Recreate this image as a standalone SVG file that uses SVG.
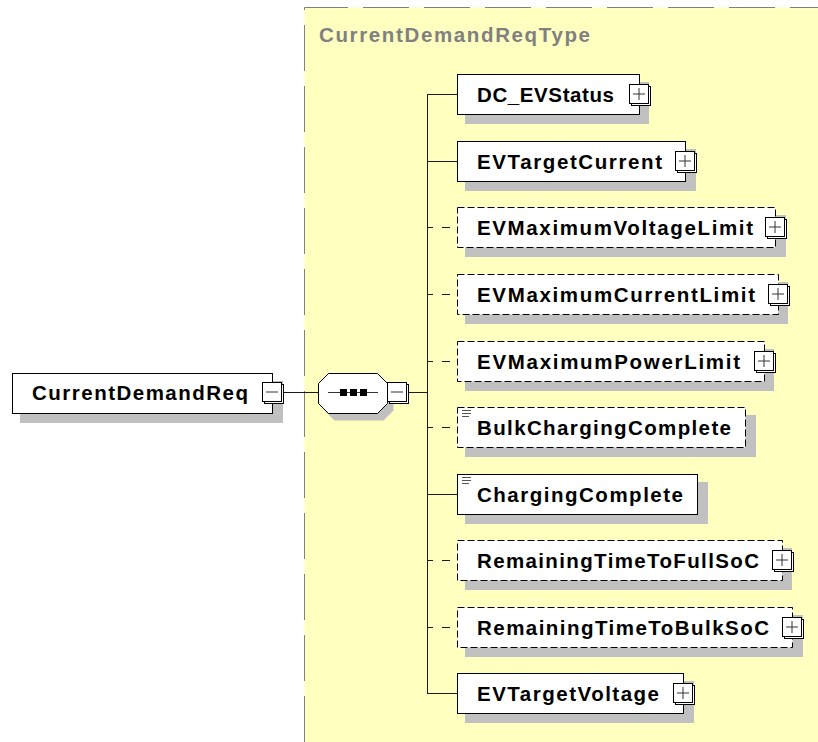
<svg xmlns="http://www.w3.org/2000/svg" xmlns:xlink="http://www.w3.org/1999/xlink" width="818" height="742" viewBox="0 0 818 742">
<defs>
<style>
.shadow{fill:#c0c0c0;stroke:none}
.box{fill:#fff;stroke:#000;stroke-width:1}
.opt{stroke-dasharray:7 3}
.lbl{font-family:"Liberation Sans",Arial,sans-serif;font-weight:bold;font-size:20.5px;fill:#000}
.title{font-family:"Liberation Sans",Arial,sans-serif;font-weight:bold;font-size:20.5px;fill:#808080}
.conn{stroke:#1a1a1a;stroke-width:1;fill:none}
.dconn{stroke:#1a1a1a;stroke-width:1;fill:none;stroke-dasharray:5 9 8 7}
.ico{stroke:#333;stroke-width:1}
</style>
<g id="plus">
<rect x="2.5" y="2.5" width="19" height="19" fill="#fff" stroke="#000"/>
<rect x="0.5" y="0.5" width="19" height="19" fill="#fff" stroke="#000"/>
<line x1="4" y1="10" x2="16" y2="10" class="ico"/>
<line x1="10" y1="4" x2="10" y2="16" class="ico"/>
</g>
<g id="minus">
<rect x="2.5" y="2.5" width="19" height="19" fill="#fff" stroke="#000"/>
<rect x="0.5" y="0.5" width="19" height="19" fill="#fff" stroke="#000"/>
<line x1="4" y1="10" x2="16" y2="10" class="ico"/>
</g>
<g id="lines">
<line x1="462" y1="0.5" x2="471" y2="0.5" stroke="#555"/>
<line x1="462" y1="3.5" x2="471" y2="3.5" stroke="#555"/>
<line x1="462" y1="6.5" x2="469" y2="6.5" stroke="#555"/>
</g>
</defs>
<rect width="818" height="742" fill="#fff"/>
<g id="panel">
<rect x="304.5" y="7.5" width="520" height="740" fill="#ffffc0"/>
<path d="M304.5 742 V7.5 H818" fill="none" stroke="#808080" stroke-width="1" stroke-dasharray="46 15"/>
<text class="title" x="319" y="42" textLength="271" lengthAdjust="spacing">CurrentDemandReqType</text>
</g>
<g id="connectors">
<line class="conn" x1="284" y1="392.5" x2="318.5" y2="392.5"/>
<line class="conn" x1="408" y1="392.5" x2="428" y2="392.5"/>
<line class="conn" x1="427.5" y1="94" x2="427.5" y2="694"/>
<line class="conn" x1="428" y1="94.5" x2="457" y2="94.5"/>
<line class="conn" x1="428" y1="161.5" x2="457" y2="161.5"/>
<line class="dconn" x1="428" y1="227.5" x2="457" y2="227.5"/>
<line class="dconn" x1="428" y1="294.5" x2="457" y2="294.5"/>
<line class="dconn" x1="428" y1="361.5" x2="457" y2="361.5"/>
<line class="dconn" x1="428" y1="427.5" x2="457" y2="427.5"/>
<line class="conn" x1="428" y1="494.5" x2="457" y2="494.5"/>
<line class="dconn" x1="428" y1="560.5" x2="457" y2="560.5"/>
<line class="dconn" x1="428" y1="627.5" x2="457" y2="627.5"/>
<line class="conn" x1="428" y1="693.5" x2="457" y2="693.5"/>
</g>
<g id="root">
<rect class="shadow" x="20" y="381" width="263" height="42"/>
<rect class="box" x="12.5" y="373.5" width="260" height="40"/>
<text class="lbl" x="32" y="400" textLength="216" lengthAdjust="spacing">CurrentDemandReq</text>
<use xlink:href="#minus" x="262" y="382"/>
</g>
<g id="sequence">
<polygon transform="translate(6,7)" points="328.5,373.5 377.5,373.5 387.5,383.5 387.5,403.5 377.5,413.5 328.5,413.5 318.5,403.5 318.5,383.5" fill="#c0c0c0"/>
<polygon points="328.5,373.5 377.5,373.5 387.5,383.5 387.5,403.5 377.5,413.5 328.5,413.5 318.5,403.5 318.5,383.5" fill="#fff" stroke="#000"/>
<line x1="328" y1="392.5" x2="378" y2="392.5" stroke="#333"/>
<rect x="340" y="389" width="7" height="7" fill="#000"/>
<rect x="350" y="389" width="7" height="7" fill="#000"/>
<rect x="360" y="389" width="7" height="7" fill="#000"/>
<use xlink:href="#minus" x="387" y="382"/>
</g>
<g id="DC_EVStatus">
<rect class="shadow" x="465" y="82" width="184" height="42"/>
<rect class="box" x="457.5" y="74.5" width="182" height="40"/>
<text class="lbl" x="477" y="101.5" textLength="137" lengthAdjust="spacing">DC_EVStatus</text>
<use xlink:href="#plus" x="629" y="84"/>
</g>
<g id="EVTargetCurrent">
<rect class="shadow" x="465" y="149" width="231" height="42"/>
<rect class="box" x="457.5" y="141.5" width="228" height="40"/>
<text class="lbl" x="477" y="168.5" textLength="185" lengthAdjust="spacing">EVTargetCurrent</text>
<use xlink:href="#plus" x="675" y="151"/>
</g>
<g id="EVMaximumVoltageLimit">
<rect class="shadow" x="465" y="215" width="321" height="42"/>
<rect class="box opt" x="457.5" y="207.5" width="318" height="40"/>
<text class="lbl" x="477" y="234.5" textLength="276" lengthAdjust="spacing">EVMaximumVoltageLimit</text>
<use xlink:href="#plus" x="765" y="217"/>
</g>
<g id="EVMaximumCurrentLimit">
<rect class="shadow" x="465" y="282" width="323" height="42"/>
<rect class="box opt" x="457.5" y="274.5" width="321" height="40"/>
<text class="lbl" x="477" y="301.5" textLength="278" lengthAdjust="spacing">EVMaximumCurrentLimit</text>
<use xlink:href="#plus" x="768" y="284"/>
</g>
<g id="EVMaximumPowerLimit">
<rect class="shadow" x="465" y="349" width="309" height="42"/>
<rect class="box opt" x="457.5" y="341.5" width="307" height="40"/>
<text class="lbl" x="477" y="368.5" textLength="263" lengthAdjust="spacing">EVMaximumPowerLimit</text>
<use xlink:href="#plus" x="754" y="351"/>
</g>
<g id="BulkChargingComplete">
<rect class="shadow" x="465" y="415" width="291" height="42"/>
<rect class="box opt" x="457.5" y="407.5" width="288" height="40"/>
<use xlink:href="#lines" x="0" y="410"/>
<text class="lbl" x="477" y="434.5" textLength="254" lengthAdjust="spacing">BulkChargingComplete</text>
</g>
<g id="ChargingComplete">
<rect class="shadow" x="465" y="482" width="243" height="42"/>
<rect class="box" x="457.5" y="474.5" width="240" height="40"/>
<use xlink:href="#lines" x="0" y="477"/>
<text class="lbl" x="477" y="501.5" textLength="206" lengthAdjust="spacing">ChargingComplete</text>
</g>
<g id="RemainingTimeToFullSoC">
<rect class="shadow" x="465" y="548" width="327" height="42"/>
<rect class="box opt" x="457.5" y="540.5" width="325" height="40"/>
<text class="lbl" x="477" y="567.5" textLength="282" lengthAdjust="spacing">RemainingTimeToFullSoC</text>
<use xlink:href="#plus" x="772" y="550"/>
</g>
<g id="RemainingTimeToBulkSoC">
<rect class="shadow" x="465" y="615" width="338" height="42"/>
<rect class="box opt" x="457.5" y="607.5" width="335" height="40"/>
<text class="lbl" x="477" y="634.5" textLength="292" lengthAdjust="spacing">RemainingTimeToBulkSoC</text>
<use xlink:href="#plus" x="782" y="617"/>
</g>
<g id="EVTargetVoltage">
<rect class="shadow" x="465" y="681" width="229" height="42"/>
<rect class="box" x="457.5" y="673.5" width="226" height="40"/>
<text class="lbl" x="477" y="700.5" textLength="182" lengthAdjust="spacing">EVTargetVoltage</text>
<use xlink:href="#plus" x="673" y="683"/>
</g>
</svg>
